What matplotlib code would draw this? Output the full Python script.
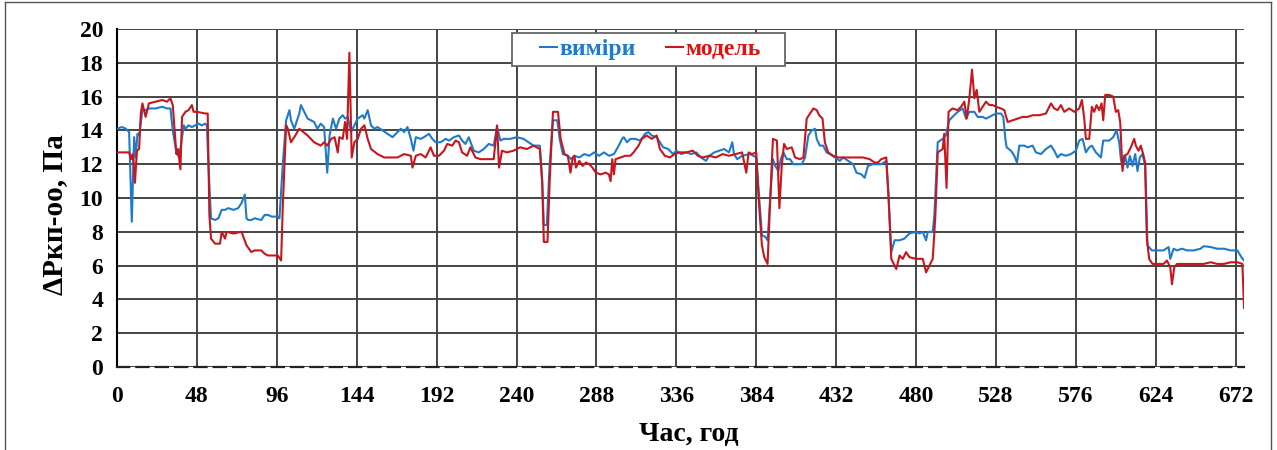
import matplotlib
matplotlib.use("Agg")
import matplotlib.pyplot as plt
from matplotlib.lines import Line2D
from matplotlib.patches import Rectangle

# (hour, value)
meas_points = [
    (0, 14.1), (3, 14.2), (5.3, 14.1), (7.3, 13.9), (8.9, 8.6), (10.3, 13.6), (11.3, 12.4), (12.3, 13.8),
    (13.3, 13.7), (15.3, 15.2), (17.2, 15.2), (19.2, 15.3), (23.2, 15.3), (27.2, 15.4), (30, 15.3), (32.1, 15.3),
    (33.5, 14.0), (35.7, 12.7), (36.7, 12.5), (38.1, 12.9), (40.1, 14.3), (41.1, 14.1), (43, 14.3), (45, 14.2),
    (47, 14.3), (49, 14.4), (51, 14.3), (53, 14.4), (54, 14.3), (54.9, 12.0), (56.5, 8.8), (58.9, 8.7),
    (60.9, 8.8), (62.9, 9.3), (64.9, 9.3), (66.8, 9.4), (70, 9.3), (72.8, 9.4), (74.8, 9.7), (76.8, 10.2),
    (77.8, 8.8), (78.8, 8.7), (80.7, 8.7), (82.7, 8.8), (86.7, 8.7), (88.7, 9.0), (90.7, 9.0), (93, 8.9),
    (96.6, 8.9), (97.6, 8.8), (99.6, 12.0), (101.6, 14.6), (103.6, 15.2), (104.5, 14.6), (106.5, 14.1),
    (109.5, 15.0), (110.5, 15.5), (114.5, 14.7), (118.4, 14.5), (120.4, 14.1), (122.4, 14.4), (124.4, 14.2),
    (126.3, 11.5), (127.7, 13.7), (129.7, 14.7), (131.6, 14.1), (133.6, 14.7), (135.6, 14.9), (137.0, 14.7),
    (138.6, 14.8), (140.6, 13.9), (142.6, 14.3), (144.6, 14.7), (147.6, 14.9), (148.6, 14.7), (150.6, 15.2),
    (152.6, 14.3), (154.6, 14.1), (156.5, 14.2), (159.5, 14.0), (162.5, 13.8), (165.5, 13.6), (168.5, 13.9),
    (170.5, 14.1), (172.5, 13.9), (174.5, 14.2), (176.5, 13.5), (178.1, 12.8), (179.5, 13.6), (182.4, 13.5),
    (184.4, 13.6), (187.4, 13.8), (189.4, 13.5), (191.4, 13.3), (194.4, 13.3), (197.4, 13.5), (199.4, 13.4),
    (202.4, 13.6), (205.4, 13.7), (207.3, 13.4), (209.3, 13.2), (211.3, 13.6), (214.3, 12.8), (217.3, 12.7),
    (220.3, 12.9), (223.3, 13.2), (226.3, 13.1), (228.3, 14.2), (230.3, 13.4), (232.2, 13.5), (236.2, 13.5),
    (240.2, 13.6), (244.2, 13.5), (247.2, 13.3), (250.2, 13.1),
    (254, 13.1), (255.4, 11.0), (256.4, 8.4), (258.2, 8.4), (259.9, 12.0), (261.9, 14.6), (264.5, 14.6),
    (265.9, 13.5), (267.8, 12.6), (270.8, 12.5), (272.8, 12.3), (274.8, 12.5), (277.7, 12.4), (280.7, 12.6),
    (283.7, 12.5), (286.6, 12.7), (289.6, 12.5), (292.5, 12.7), (295.5, 12.5), (298.5, 12.6), (301.4, 13.1),
    (303.4, 13.5), (304.4, 13.6), (306.4, 13.3), (308.4, 13.5), (311.3, 13.5), (314.3, 13.4), (317.2, 13.8),
    (319.2, 13.9), (321.2, 13.7), (324.2, 13.6), (326.1, 13.3), (328.1, 13.0), (331.1, 12.9), (334.0, 12.6),
    (336.0, 12.8), (339.0, 12.6), (342.0, 12.7), (344.9, 12.6), (347.9, 12.7), (350.8, 12.4), (353.8, 12.2),
    (355.8, 12.5), (358.8, 12.7), (361.7, 12.8), (364.7, 12.9), (367.6, 12.7), (369.6, 13.3), (370.6, 12.6),
    (372.6, 12.3), (375.5, 12.5),
    (380.4, 12.6), (384, 12.4), (385.4, 10.5), (387.4, 7.8), (389.4, 7.7), (390.8, 7.5), (392.4, 10.0),
    (394.0, 12.3), (395.4, 11.9), (397.3, 11.6), (398.7, 12.3), (400.3, 12.7), (402.3, 12.3), (404.3, 12.3),
    (406.3, 12.0), (408.3, 12.0), (411.3, 12.0), (413.3, 12.4), (415.3, 13.7), (417.3, 14.0), (419.3, 14.1),
    (420.3, 13.5), (422.2, 13.1), (424.2, 13.1), (426.2, 12.7), (428.2, 12.6), (431.2, 12.4), (434.2, 12.2),
    (436.2, 12.4), (439.2, 12.2), (442.2, 12.0), (444.2, 11.5), (447.1, 11.4), (449.1, 11.2), (451.1, 11.9),
    (454.1, 12.0), (456.1, 12.0), (459.1, 12.0), (462.1, 12.2), (463.5, 10.0), (465.1, 6.8), (467.1, 7.5),
    (470.1, 7.5), (473.0, 7.6), (476.0, 7.9), (480.0, 8.0), (482.0, 7.9), (484.0, 8.0), (486.0, 7.5),
    (487.0, 8.0), (490.0, 8.0), (491.0, 9.0), (493.0, 13.3), (496.0, 13.5), (497.9, 13.7), (499.9, 14.6),
    (501.9, 14.8),
    (505, 15.1), (508, 15.3), (510, 14.7), (512, 15.1), (515, 15.1), (517, 14.8), (520, 14.8), (522, 14.7),
    (524, 14.8), (526, 14.9), (528, 15.0), (531, 15.0), (532.4, 14.8), (533.6, 13.5), (534.4, 13.0), (537, 12.8),
    (539, 12.5), (540.6, 12.1), (542, 13.1), (545, 13.1), (547, 13.0), (550, 13.1), (552, 12.7), (555, 12.6),
    (558, 12.9), (561, 13.1), (563, 12.8), (565, 12.4), (567, 12.6), (570, 12.5), (573, 12.6), (576, 12.8),
    (578, 13.4), (580, 13.5), (582, 12.7), (584, 13.0), (585.6, 13.1), (588, 12.7), (591, 12.4), (592.4, 13.4),
    (596, 13.4), (598.4, 13.6), (600.4, 14.0), (602, 13.3), (603, 12.3), (604, 11.8), (605.6, 12.5), (607, 11.8),
    (608.4, 12.5), (610, 11.9), (611.6, 12.6), (613, 11.6), (614.4, 12.4), (616, 12.6), (617.6, 11.9), (619, 7.2),
    (621.6, 6.9), (624.6, 6.9), (628.6, 6.9), (631.7, 7.1), (632.7, 6.4), (634.7, 7.0), (636.7, 6.9),
    (639.7, 7.0), (642.8, 6.9), (646.8, 6.9), (650.8, 7.0), (652.8, 7.15), (656.9, 7.1), (660.9, 7.0),
    (664.9, 7.0), (669.0, 6.9), (673.0, 6.9), (675.4, 6.5), (677, 6.3),
]

model_points = [
    (0, 12.7), (5, 12.7), (7.3, 12.7), (8.5, 12.3), (9.5, 12.6), (10.8, 10.9), (12, 12.8), (13.3, 12.9),
    (14.3, 15.0), (15.3, 15.6), (17.2, 14.8), (19.2, 15.6), (23.2, 15.7), (27.2, 15.8), (30, 15.7), (32.1, 15.9),
    (33.5, 15.5), (35.7, 12.6), (36.7, 12.9), (38.1, 11.7), (39.1, 14.8), (41.1, 15.1), (43, 15.2), (45, 15.5),
    (46, 15.1), (48, 15.1), (53, 15.0), (54.5, 15.0), (55.5, 9.0), (56.5, 7.6), (58.9, 7.3), (61.9, 7.3),
    (62.9, 8.0), (64.9, 7.6), (65.9, 8.0), (70, 7.9), (74.8, 8.0), (77.8, 7.2), (80.7, 6.8), (82.7, 6.9),
    (86.7, 6.9), (88.7, 6.7), (90.7, 6.6), (96.6, 6.6), (98.6, 6.3), (99.6, 9.5), (101.6, 14.3), (102.6, 14.1),
    (104.5, 13.3), (106.5, 13.6), (109.5, 14.1), (114.5, 13.7), (118.4, 13.3), (122.4, 13.1), (124.4, 13.3),
    (126.3, 13.1), (128.7, 13.5), (130.7, 13.6), (132.6, 12.7), (133.6, 13.6), (135.6, 13.5), (137.0, 14.5),
    (138.2, 13.5), (139.6, 18.6), (141.0, 12.4), (142.6, 13.3), (144.6, 13.5), (146.6, 14.1), (148.6, 14.3),
    (150.6, 13.5), (152.6, 12.9), (156.5, 12.6), (160.5, 12.4), (164.5, 12.4), (168.5, 12.4), (172.5, 12.6),
    (176.5, 12.5), (177.5, 11.8), (179.5, 12.5), (182.4, 12.6), (185.4, 12.4), (188.4, 13.0), (190.4, 12.5),
    (193.4, 12.5), (196.4, 12.8), (198.4, 13.2), (201.4, 13.1), (203.4, 13.4), (205.4, 13.3), (207.3, 12.7),
    (210.3, 12.5), (212.3, 13.0), (215.3, 12.4), (218.3, 12.3), (222.3, 12.3), (226.3, 12.3), (228.3, 14.3),
    (229.5, 11.8), (231.3, 12.8), (234.2, 12.7), (238.2, 12.8), (242.2, 13.0), (246.2, 12.9), (250.2, 13.1),
    (254, 12.9), (255.4, 11.0), (256.4, 7.4), (258.6, 7.4), (259.9, 11.0), (261.9, 15.1), (264.9, 15.1),
    (266.5, 13.5), (268.8, 12.6), (270.8, 12.5), (272.4, 11.5), (273.8, 12.4), (274.8, 12.5), (275.7, 11.8),
    (277.7, 12.2), (279.7, 11.9), (281.7, 12.1), (283.7, 12.0), (285.6, 11.8), (287.6, 11.5), (290.6, 11.4),
    (293.5, 11.5), (295.5, 11.4), (296.5, 11.0), (297.5, 12.3), (298.5, 11.4), (299.5, 12.3), (302.4, 12.4),
    (305.4, 12.5), (308.4, 12.5), (310.3, 12.7), (313.3, 13.1), (315.3, 13.5), (318.2, 13.7), (321.2, 13.5),
    (324.2, 13.7), (326.1, 12.9), (329.1, 12.5), (332.1, 12.4), (335.0, 12.6), (338.0, 12.7), (342.0, 12.7),
    (345.9, 12.8), (348.9, 12.5), (351.8, 12.4), (355.8, 12.5), (359.7, 12.4), (363.7, 12.6), (367.6, 12.5),
    (371.6, 12.6), (375.5, 12.7),
    (378.0, 11.5), (379.4, 12.7), (381.4, 12.6), (384, 12.7), (385.4, 10.0), (387.4, 7.2), (388.8, 6.5),
    (390.8, 6.1), (392.4, 10.0), (394.0, 13.5), (396.4, 13.4), (397.9, 9.4), (399.3, 11.9), (400.7, 13.2),
    (402.3, 12.9), (405.3, 13.0), (407.3, 12.4), (410.3, 12.3), (412.3, 12.4), (414.3, 14.7), (416.3, 15.0),
    (418.3, 15.3), (420.3, 15.2), (421.8, 14.9), (423.8, 14.7), (425.2, 13.3), (427.2, 12.7), (430.2, 12.5),
    (433.2, 12.4), (436.2, 12.4), (440.2, 12.4), (444.2, 12.4), (448.1, 12.4), (452.1, 12.3), (455.1, 12.1),
    (457.1, 12.1), (459.1, 12.3), (462.1, 12.4), (463.5, 10.0), (465.1, 6.4), (468.1, 5.8), (470.1, 6.6),
    (472.0, 6.4), (474.0, 6.8), (476.0, 6.5), (480.0, 6.4), (484.0, 6.4), (486.0, 5.6), (488.0, 6.0),
    (490.0, 6.4), (491.6, 9.0), (493.0, 12.7), (496.0, 12.9), (496.9, 13.8), (498.3, 10.6), (499.5, 15.1),
    (501.9, 15.3),
    (505, 15.2), (507, 15.4), (509, 15.7), (510.4, 14.7), (512, 15.9), (513.6, 17.6), (515, 15.9), (516.4, 16.4),
    (518, 15.1), (520, 15.4), (522, 15.7), (524, 15.5), (526, 15.5), (528, 15.4), (531, 15.3), (533, 15.2),
    (535, 14.5), (538, 14.6), (541, 14.7), (544, 14.8), (547, 14.8), (550, 14.9), (554, 14.9), (558, 15.0),
    (561, 15.6), (563, 15.3), (565, 15.2), (567, 15.5), (569, 15.1), (572, 15.3), (575, 15.1), (578, 15.3),
    (579.6, 15.8), (581, 14.7), (582, 13.5), (584, 13.5), (585.6, 15.4), (587, 15.1), (588.4, 15.5), (590, 15.2),
    (591.4, 15.6), (592.4, 14.6), (593.6, 16.1), (596, 16.1), (598.4, 16.0), (600, 15.1), (601.4, 15.2),
    (602.6, 14.5), (604, 11.6), (605, 12.5), (607, 12.6), (609, 13.0), (611, 13.5), (612, 13.1), (613.6, 12.8),
    (615, 13.1), (616.4, 12.6), (617.6, 12.1), (618.6, 7.6), (620, 6.4), (622, 6.1), (624.6, 6.1), (628.6, 6.1),
    (630.7, 6.3), (632.7, 5.9), (633.7, 4.9), (635.1, 5.9), (636.7, 6.1), (640.7, 6.1), (644.8, 6.1),
    (648.8, 6.1), (652.8, 6.1), (656.9, 6.2), (660.9, 6.1), (664.9, 6.1), (669.0, 6.2), (673.0, 6.2),
    (676.0, 6.1), (677, 3.5),
]

x_ticks = list(range(0, 673, 48))
y_ticks = list(range(0, 21, 2))

BLUE = "#1f7acc"
RED = "#c8161d"
SERIF = ["Liberation Serif", "DejaVu Serif"]

plt.rcParams["font.family"] = SERIF
plt.rcParams["font.weight"] = "bold"

fig = plt.figure(figsize=(12.77, 4.5), dpi=100)
ax = fig.add_axes([0.0916, 0.1844, 0.8826, 0.7511])

mh, mv = zip(*meas_points)
rh, rv = zip(*model_points)
ax.plot(mh, mv, color=BLUE, lw=1.5, label="виміри", zorder=3)
ax.plot(rh, rv, color=RED, lw=1.5, label="модель", zorder=4)

ax.set_xlim(0, 677)
ax.set_ylim(0, 20)
ax.set_xticks(x_ticks)
ax.set_yticks(y_ticks)
ax.tick_params(axis="both", length=0, labelsize=17)
ax.tick_params(axis="x", pad=14)
ax.tick_params(axis="y", pad=10)
for lab in ax.get_xticklabels() + ax.get_yticklabels():
    lab.set_fontweight("bold")

ax.grid(True, color="#444444", lw=1.4)
ax.set_axisbelow(True)
ax.spines["top"].set_visible(False)
ax.spines["right"].set_visible(False)
ax.spines["left"].set_color("black")
ax.spines["left"].set_linewidth(1.5)
ax.spines["bottom"].set_color("#222222")
ax.spines["bottom"].set_linewidth(1.6)
ax.spines["bottom"].set_linestyle((0, (5.5, 3.2)))

# legend box drawn by hand so the inner padding matches
ax.add_patch(Rectangle((0.3505, 0.8905), 0.2422, 0.0975, transform=ax.transAxes,
                       facecolor="white", edgecolor="#666666", lw=1.3, zorder=5))
handles = [Line2D([], [], color=BLUE, lw=1.5), Line2D([], [], color=RED, lw=1.5)]
leg = ax.legend(handles, ["виміри", "модель"], loc="center left", bbox_to_anchor=(0.375, 0.939),
                ncol=2, frameon=False, borderpad=0, borderaxespad=0,
                handlelength=0.75, handletextpad=0.1, columnspacing=1.25,
                prop={"family": SERIF, "weight": "bold", "size": 17})
leg.set_zorder(6)
leg.texts[0].set_color(BLUE)
leg.texts[1].set_color("#e01010")

fig.text(55 / 1277, 0.522, "ΔPкп-оо, Па", rotation=90, ha="center", va="center",
         fontsize=21, fontweight="bold")
fig.text(689 / 1277, 0.035, "Час, год", ha="center", va="center", fontsize=20, fontweight="bold")

# thin frame round the picture
for xs, ys in [((0.004, 0.004), (0, 0.995)), ((0.004, 0.995), (0.995, 0.995)), ((0.995, 0.995), (0, 0.995))]:
    fig.add_artist(Line2D(xs, ys, transform=fig.transFigure, color="#555555", lw=1.0))

fig.savefig("out.png", dpi=100)
